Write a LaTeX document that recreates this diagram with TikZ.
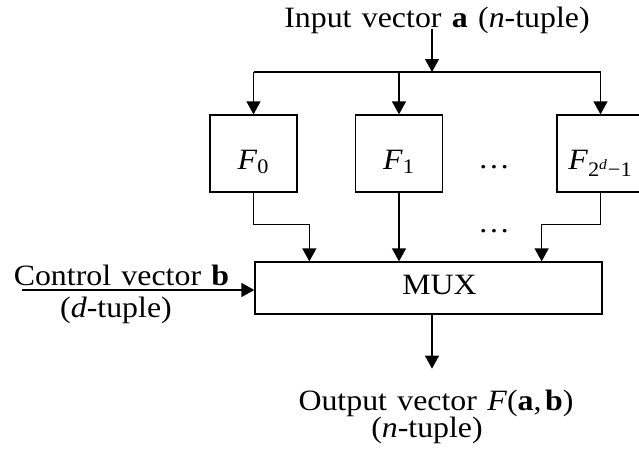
\documentclass[tikz,border=0pt]{standalone}
\usepackage{fontspec}
\setmainfont{Liberation Serif}[FakeStretch=1.08, WordSpace=1.3]
\usetikzlibrary{positioning,arrows.meta,calc}

\begin{document}
\begin{tikzpicture}[
x=0.5pt, y=-0.5pt,
every node/.style={font=\fontsize{14.75}{17}\selectfont},
funcbox/.style={rectangle, draw=black, line width=0.65pt, minimum width=43.5pt, minimum height=38.5pt, inner sep=0pt, text height=15.5pt, text depth=0pt},
muxbox/.style={rectangle, draw=black, line width=0.65pt, minimum width=173.5pt, minimum height=26pt, inner sep=0pt, text height=6pt, text depth=0pt},
wire/.style={line width=0.65pt, -{Triangle[length=6.5pt,width=7pt]}},
]
\useasboundingbox (0,0) rectangle (639,456);

\node[anchor=base]   (Input)     at (437,27)      {Input vector \textbf{a} (\textit{n}-tuple)};
\coordinate          (InTap)     at (432,29);
\coordinate          (Split)     at (432,72);
\node[funcbox]       (F0)        at (253.5,153.5) {\textit{F}\textsubscript{0}};
\node[funcbox]       (F1)        at (399,153.5)   {\textit{F}\textsubscript{1}};
\node[funcbox]       (Flast)     at (600.5,153.5) {\textit{F}\textsubscript{2\textsuperscript{\textit{d}}−1}};
\node[anchor=base]   (DotsTop)   at (494,168.5)   {…};
\node[anchor=base]   (DotsBot)   at (494,232.5)   {…};
\node[muxbox]        (Mux)       at (428.5,288)   {\hspace*{11pt}MUX};
\node[anchor=base]   (Control)   at (121.5,285)   {Control vector \textbf{b}};
\node[anchor=base]   (ControlSz) at (116,317)     {(\textit{d}-tuple)};
\coordinate          (CtrlStart) at (22,290);
\node[anchor=base]   (Output)    at (436,410)     {Output vector \textit{F}(\textbf{a},\hspace{0.12em}\textbf{b})};
\node[anchor=base]   (OutputSz)  at (427,437)     {(\textit{n}-tuple)};

\draw[wire] (InTap) -- (Split);
\draw[line width=0.65pt] (F0.north |- Split) -- (Flast.north |- Split);
\draw[wire] (F0.north |- Split) -- (F0.north);
\draw[wire] (F1.north |- Split) -- (F1.north);
\draw[wire] (Flast.north |- Split) -- (Flast.north);

\draw[wire] (F0.south) -- ++(0,32) -| ($(Mux.north west)+(55,0)$);
\draw[wire] (F1.south) -- (F1.south |- Mux.north);
\draw[wire] (Flast.south) -- ++(0,32) -| ($(Mux.north east)+(-61,0)$);
\draw[wire] (CtrlStart) -- (CtrlStart -| Mux.west);
\draw[wire] (Mux.south -| InTap) -- ++(0,54);

\end{tikzpicture}
\end{document}
